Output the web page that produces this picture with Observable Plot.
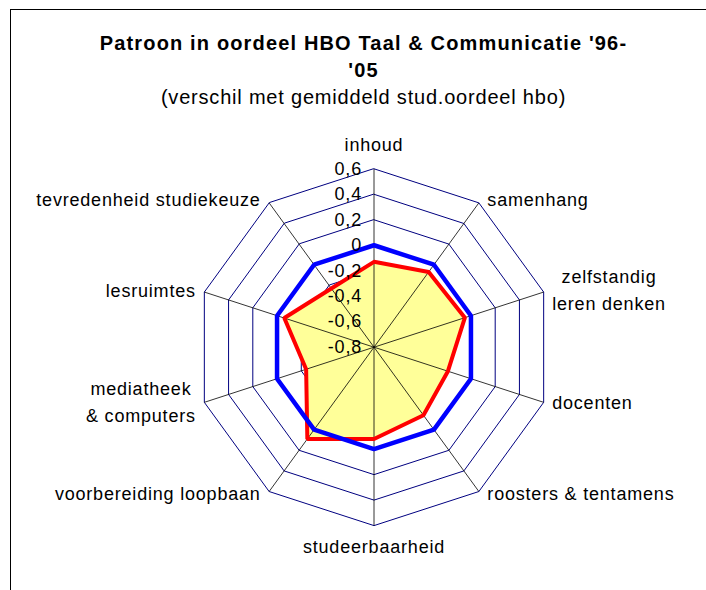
<!DOCTYPE html>
<html><head><meta charset="utf-8">
<script src="https://cdn.jsdelivr.net/npm/d3@7"></script>
<script src="https://cdn.jsdelivr.net/npm/@observablehq/plot@0.6"></script>
<style>
html,body{margin:0;padding:0;background:#fff;overflow:hidden;width:706px;height:590px;}
#wrap{position:relative;width:706px;height:590px;}
#border{position:absolute;left:10px;top:9px;width:900px;height:900px;border-left:1.5px solid #000;border-top:1.5px solid #000;pointer-events:none;}
svg text{letter-spacing:0.8px;}
</style></head><body><div id="wrap"><div id="border"></div></div>
<script>
// ---- data ----
const categories = ["inhoud", "samenhang", "zelfstandig\nleren denken", "docenten", "roosters & tentamens",
  "studeerbaarheid", "voorbereiding loopbaan", "mediatheek\n& computers", "lesruimtes", "tevredenheid studiekeuze"];
const gemiddeldHbo = [0, 0, 0, 0, 0, 0, 0, 0, 0, 0];
const taalCommunicatie = [-0.13, -0.07, -0.05, -0.19, -0.14, -0.08, 0.09, -0.24, -0.06, -0.23];
const tickValues = [-0.8, -0.6, -0.4, -0.2, 0, 0.2, 0.4, 0.6];
const tickLabels = ["-0,8", "-0,6", "-0,4", "-0,2", "0", "0,2", "0,4", "0,6"];
const titleText = "Patroon in oordeel HBO Taal & Communicatie '96-\n'05";
const subtitleText = "(verschil met gemiddeld stud.oordeel hbo)";

// ---- layout ----
const W = 706, H = 590, cx = 373.5, cy = 346.7, R = 178.4;
const rMin = tickValues[0], rMax = tickValues[tickValues.length - 1];
const rad = v => (v - rMin) / (rMax - rMin);
const n = categories.length;
const ang = i => i * 2 * Math.PI / n;
const pt = (v, i) => ({x: rad(v) * Math.sin(ang(i)), y: rad(v) * Math.cos(ang(i))});

const ringData = tickValues.filter(t => t > rMin).flatMap(t => categories.map((c, i) => ({tick: t, ...pt(t, i)})));
const spokeData = categories.map((c, i) => pt(rMax, i));
const redPts = taalCommunicatie.map((v, i) => pt(v, i));
const bluePts = gemiddeldHbo.map((v, i) => pt(v, i));
const tickData = tickValues.map((v, i) => ({v, label: tickLabels[i]}));

const ctx = document.createElement("canvas").getContext("2d");
ctx.font = "18px 'Liberation Sans'";
const measure = s => Math.max(...s.split("\n").map(l => ctx.measureText(l).width + l.length * 0.8));
const labelData = categories.map((c, i) => {
  const s = Math.sin(ang(i)), co = Math.cos(ang(i));
  if (Math.abs(s) < 0.1) return {label: c, x: 0, y: co > 0 ? 1 + 26 / R : -1 - 19 / R};
  const w = measure(c);
  return {label: c, x: s + Math.sign(s) * (8.5 + w / 2) / R, y: co + (3 + 3 * co) / R};
});

const chart = Plot.plot({
  width: W, height: H, margin: 0,
  x: {domain: [-cx / R, (W - cx) / R], range: [0, W], axis: null},
  y: {domain: [-(H - cy) / R, cy / R], range: [H, 0], axis: null},
  style: {fontFamily: "'Liberation Sans', Arial, sans-serif", fontSize: "18px", background: "transparent", color: "#000"},
  marks: [
    Plot.line(ringData, {x: "x", y: "y", z: "tick", curve: "linear-closed", stroke: "#000080", strokeWidth: 1}),
    Plot.line(redPts, {x: "x", y: "y", curve: "linear-closed", fill: "#FFFF99", stroke: "none"}),
    Plot.link(spokeData, {x1: d => 0, y1: d => 0, x2: "x", y2: "y", stroke: "#000", strokeWidth: 0.8}),
    Plot.line(redPts, {x: "x", y: "y", curve: "linear-closed", stroke: "#FF0000", strokeWidth: 4, strokeLinejoin: "miter"}),
    Plot.line(bluePts, {x: "x", y: "y", curve: "linear-closed", stroke: "#0000FF", strokeWidth: 4.5, strokeLinejoin: "miter"}),
    Plot.text(tickData, {x: d => 0, y: d => rad(d.v), text: "label", textAnchor: "end", lineAnchor: "middle", dx: -12, fontSize: 18, fill: "#000"}),
    Plot.text(labelData, {x: "x", y: "y", text: "label", textAnchor: "middle", lineAnchor: "middle", lineHeight: 1.5, fontSize: 18, fill: "#000"}),
    Plot.text([titleText], {frameAnchor: "top", text: d => d, dx: 10, dy: 54, lineAnchor: "middle", lineHeight: 1.35, fontSize: 20, fontWeight: "bold", fill: "#000"}),
    Plot.text([subtitleText], {frameAnchor: "top", text: d => d, dx: 10, dy: 97, lineAnchor: "middle", fontSize: 20, fill: "#000"})
  ]
});
d3.select(chart).selectAll("text")
  .filter(function() { return this.textContent.startsWith("Patroon"); })
  .style("letter-spacing", "1.15px");
document.getElementById("wrap").prepend(chart);
</script>
</body></html>
